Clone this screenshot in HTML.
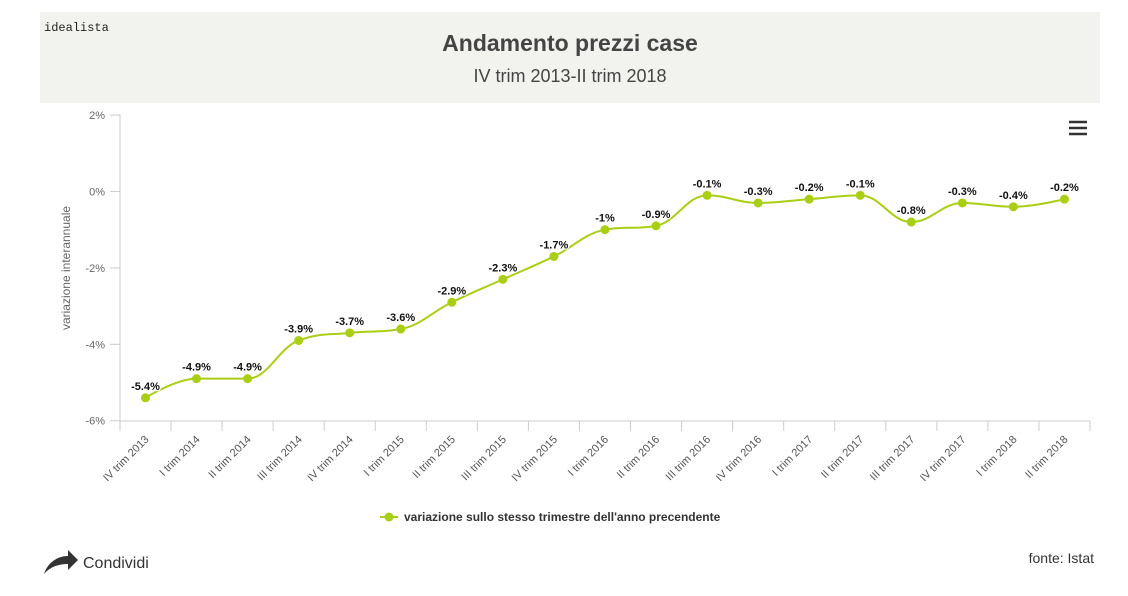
<!DOCTYPE html>
<html><head><meta charset="utf-8"><style>
body{margin:0;background:#fff;width:1128px;height:591px;overflow:hidden;font-family:"Liberation Sans",sans-serif}
</style></head><body>
<svg id="s" width="1128" height="591" xmlns="http://www.w3.org/2000/svg" font-family="Liberation Sans, sans-serif">
<rect x="40" y="12" width="1060" height="91" fill="#f2f2ee"/>
<text x="44" y="31" font-family="Liberation Mono, monospace" font-size="12" fill="#222">idealista</text>
<text x="570" y="51" text-anchor="middle" font-size="23" font-weight="bold" fill="#444">Andamento prezzi case</text>
<text x="570" y="82" text-anchor="middle" font-size="18" fill="#444">IV trim 2013-II trim 2018</text>
<g stroke="#333" stroke-width="2.5"><line x1="1069" y1="122" x2="1087" y2="122"/><line x1="1069" y1="128" x2="1087" y2="128"/><line x1="1069" y1="134" x2="1087" y2="134"/></g>
<text transform="translate(70,268) rotate(-90)" text-anchor="middle" font-size="12" fill="#666">variazione interannuale</text>
<g id="g"></g>
<circle cx="389" cy="517" r="4.5" fill="#a8cf14"/><line x1="380" y1="517" x2="398" y2="517" stroke="#a8cf14" stroke-width="2"/>
<text x="404" y="521" font-size="12" font-weight="bold" fill="#333">variazione sullo stesso trimestre dell'anno precendente</text>
<path d="M44 574 C48 562 58 556 68 556 L68 550 L78 560 L68 570 L68 564 C58 564 50 567 44 574Z" fill="#333"/>
<text x="83" y="568" font-size="16" fill="#333">Condividi</text>
<text x="1094" y="563" text-anchor="end" font-size="14" fill="#333">fonte: Istat</text>
</svg>
<script>
var v=[-5.4,-4.9,-4.9,-3.9,-3.7,-3.6,-2.9,-2.3,-1.7,-1,-0.9,-0.1,-0.3,-0.2,-0.1,-0.8,-0.3,-0.4,-0.2];
var c=["IV trim 2013","I trim 2014","II trim 2014","III trim 2014","IV trim 2014","I trim 2015","II trim 2015","III trim 2015","IV trim 2015","I trim 2016","II trim 2016","III trim 2016","IV trim 2016","I trim 2017","II trim 2017","III trim 2017","IV trim 2017","I trim 2018","II trim 2018"];
function Y(p){return 191.5-p*38.2}var w=970/19,h='';
h+='<line x1="120" y1="114" x2="120" y2="421" stroke="#ccc"/><line x1="120" y1="421" x2="1090" y2="421" stroke="#ccc"/>';
[2,0,-2,-4,-6].forEach(function(p){h+='<line x1="110" y1="'+Y(p)+'" x2="120" y2="'+Y(p)+'" stroke="#ccc"/><text x="105" y="'+(Y(p)+4)+'" text-anchor="end" font-size="11" fill="#666">'+p+'%</text>'});
for(var i=0;i<=19;i++){var x=120+i*w;h+='<line x1="'+x+'" y1="421" x2="'+x+'" y2="431" stroke="#ccc"/>';}
var P=v.map(function(p,i){return [145.5+i*w,Y(p)]});
var L=[],R=[];
for(i=0;i<P.length;i++){var x=P[i][0],y=P[i][1];
 if(i==0||i==P.length-1){L[i]=[x,y];R[i]=[x,y];continue;}
 var lx=P[i-1][0],ly=P[i-1][1],nx=P[i+1][0],ny=P[i+1][1];
 var lcx=(1.5*x+lx)/2.5,lcy=(1.5*y+ly)/2.5,rcx=(1.5*x+nx)/2.5,rcy=(1.5*y+ny)/2.5;
 var corr=((rcy-lcy)*(rcx-x))/(rcx-lcx)+y-rcy;lcy+=corr;rcy+=corr;
 if(lcy>ly&&lcy>y){lcy=Math.max(ly,y);rcy=2*y-lcy;}else if(lcy<ly&&lcy<y){lcy=Math.min(ly,y);rcy=2*y-lcy;}
 if(rcy>ny&&rcy>y){rcy=Math.max(ny,y);lcy=2*y-rcy;}else if(rcy<ny&&rcy<y){rcy=Math.min(ny,y);lcy=2*y-rcy;}
 L[i]=[lcx,lcy];R[i]=[rcx,rcy];}
var d='M'+P[0][0]+' '+P[0][1];
for(i=1;i<P.length;i++){d+=' C'+R[i-1][0]+' '+R[i-1][1]+' '+L[i][0]+' '+L[i][1]+' '+P[i][0]+' '+P[i][1];}
h+='<path d="'+d+'" fill="none" stroke="#a8cf14" stroke-width="2"/>';
P.forEach(function(p,i){h+='<circle cx="'+p[0]+'" cy="'+p[1]+'" r="4.5" fill="#a8cf14"/><text x="'+p[0]+'" y="'+(p[1]-8)+'" text-anchor="middle" font-size="11" font-weight="bold" fill="#111" stroke="#fff" stroke-width="2.5" paint-order="stroke">'+v[i]+'%</text>';
h+='<text transform="translate('+(p[0]+4)+',440) rotate(-45)" text-anchor="end" font-size="11" fill="#555">'+c[i]+'</text>';});
document.getElementById('g').innerHTML=h;
</script>
</body></html>
